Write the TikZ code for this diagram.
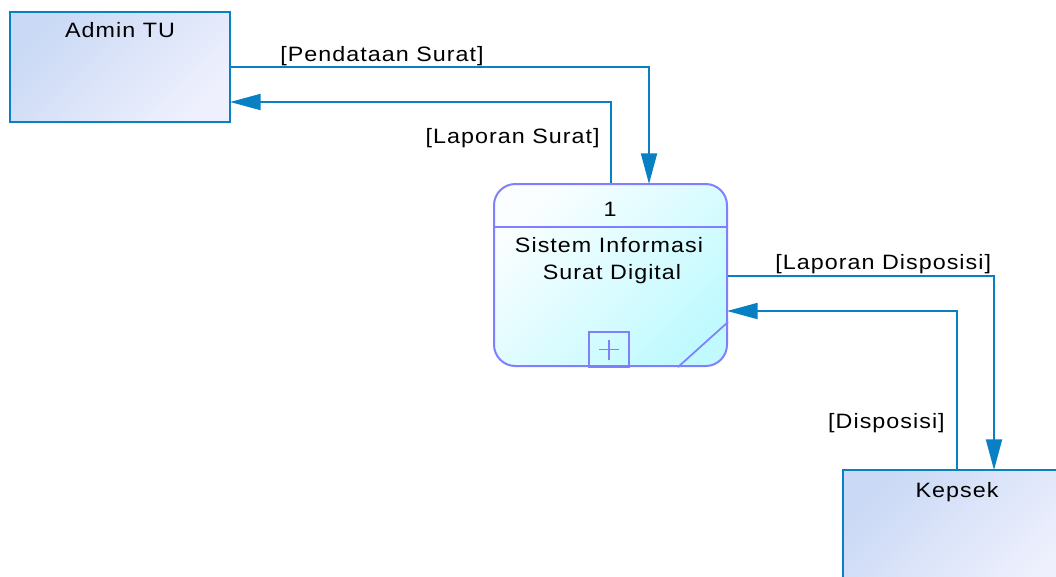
\documentclass[tikz,border=0pt]{standalone}
\usepackage{fontspec}
\setmainfont{Liberation Sans}[FakeStretch=1.12,LetterSpace=5]
\usetikzlibrary{arrows.meta,calc}
\definecolor{flowc}{RGB}{10,128,196}
\definecolor{entA}{RGB}{202,217,245}
\definecolor{entB}{RGB}{238,240,253}
\definecolor{procline}{RGB}{128,128,255}
\definecolor{procA}{RGB}{250,254,255}
\definecolor{procB}{RGB}{192,250,255}
\tikzset{
  entity/.style={draw=flowc, line width=1.5pt, top color=entA, bottom color=entB, shading angle=45, inner sep=0pt},
  process/.style={draw=procline, line width=1.5pt, rounded corners=16pt, top color=procA, bottom color=procB, shading angle=45, inner sep=0pt, minimum width=174.75pt, minimum height=136.5pt},
  procdeco/.style={draw=procline, line width=1.3pt},
  flow/.style={draw=flowc, line width=1.5pt, shorten >=-0.75pt, -{Triangle[length=23pt,width=12pt]}},
  txt/.style={font=\fontsize{15.6}{18}\selectfont, anchor=base, inner sep=0pt, text=black},
}
\begin{document}
\begin{tikzpicture}[x=0.75pt,y=-0.75pt]
\useasboundingbox (0,0) rectangle (1056,576);
% entities
\node[entity, minimum width=165pt, minimum height=82.5pt] (admin) at (120,67) {};
\node[txt] (admint) at (120,37) {Admin TU};
\node[entity, minimum width=170.25pt, minimum height=90pt] (kepsek) at (956.5,530) {};
\node[txt] (kepsekt) at (957,497) {Kepsek};
% process
\node[process] (p) at (610.5,275) {};
\coordinate (dl) at ($(p.west)+(0,-48)$);
\coordinate (dr) at ($(p.east)+(0,-48)$);
\draw[procdeco] (dl) -- (dr);
\node[draw=procline, line width=1.3pt, minimum width=30pt, minimum height=26.25pt, inner sep=0pt] (plus) at ($(p.south)+(-1.5,-17.5)$) {};
\draw[procline, line width=1pt] ($(plus.center)+(-10,0)$) -- ($(plus.center)+(10,0)$);
\draw[procline, line width=1pt] ($(plus.center)+(0,-10)$) -- ($(plus.center)+(0,10)$);
\draw[procdeco] ($(p.south)+(67.5,0)$) -- ($(p.east)+(0,47)$);
\node[txt] (pnum) at (610,216) {1};
\node[txt] (pname1) at (609,252) {Sistem Informasi};
\node[txt] (pname2) at (612,279) {Surat Digital};
% flows
\draw[flow] (admin.east) -| ($(p.north)+(38.5,0)$);
\draw[flow] (p.north) |- ($(admin.east)+(0,35)$);
\draw[flow] ($(p.east)+(0,1)$) -| ($(kepsek.north)+(37.5,0)$);
\draw[flow] (kepsek.north) |- ($(p.east)+(0,36)$);
% labels
\node[txt, anchor=base west] (l1) at (280,61) {[Pendataan Surat]};
\node[txt, anchor=base east] (l2) at (600,143) {[Laporan Surat]};
\node[txt, anchor=base west] (l3) at (775,269) {[Laporan Disposisi]};
\node[txt, anchor=base east] (l4) at (945,428) {[Disposisi]};
\end{tikzpicture}
\end{document}
